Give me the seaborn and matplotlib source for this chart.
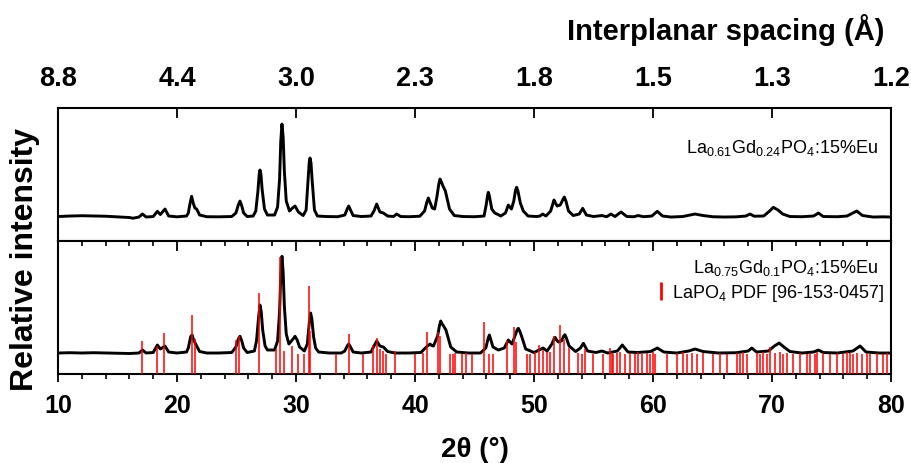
import numpy as np
import pandas as pd
import matplotlib
matplotlib.use("Agg")
import matplotlib.pyplot as plt
from matplotlib.lines import Line2D
from matplotlib.ticker import MultipleLocator, FixedLocator, FixedFormatter, NullFormatter
import seaborn as sns

# --- X-ray diffraction patterns (2theta in degrees, intensity in arbitrary units) ---
two_theta_a = [
    10.0, 11.0, 12.0, 13.0, 14.0, 15.0, 16.0, 16.3, 16.8, 17.1, 17.4, 18.0, 18.35, 18.6, 18.99, 19.3,
    20.0, 20.8, 20.95, 21.1, 21.23, 21.36, 21.5, 21.65, 21.9, 22.5, 23.5, 24.6, 24.95, 25.15, 25.29,
    25.42, 25.6, 25.9, 26.4, 26.62, 26.8, 26.9, 26.97, 27.05, 27.15, 27.35, 27.6, 28.2, 28.45,
    28.62, 28.72, 28.82, 28.92, 29.02, 29.18, 29.45, 29.7, 29.92, 30.2, 30.6, 30.85, 31.02, 31.11,
    31.18, 31.26, 31.36, 31.55, 31.8, 32.5, 33.5, 34.1, 34.3, 34.43, 34.58, 34.8, 35.5, 36.3, 36.55,
    36.78, 37.05, 37.34, 37.7, 38.2, 38.46, 38.8, 39.5, 40.4, 40.8, 41.0, 41.12, 41.25, 41.45, 41.65,
    41.85, 42.0, 42.1, 42.22, 42.35, 42.55, 42.9, 43.3, 44.0, 45.0, 45.8, 45.98, 46.1, 46.16, 46.25,
    46.45, 46.7, 46.9, 47.2, 47.6, 47.84, 48.1, 48.3, 48.45, 48.54, 48.65, 48.85, 49.1, 49.5,
    50.2, 50.5, 50.73, 51.0, 51.4, 51.6, 51.68, 51.8, 51.95, 52.2, 52.45, 52.55, 52.68, 52.9, 53.3,
    53.8, 54.09, 54.4, 55.0, 55.7, 56.1, 56.47, 56.8, 57.31, 57.8, 58.4, 58.75, 59.2, 59.9, 60.36,
    60.8, 61.5, 62.5, 63.1, 63.53, 64.2, 65.0, 66.0, 67.0, 67.8, 68.15, 68.5, 69.3, 69.8, 70.11,
    70.5, 70.9, 71.5, 72.5, 73.5, 73.9, 74.3, 75.5, 76.3, 76.8, 77.12, 77.6, 78.5, 79.3, 80.0,
]
intensity_a = [
    24.5, 25.0, 25.3, 25.0, 24.8, 24.2, 23.5, 22.8, 24.0, 27.0, 24.0, 24.5, 29.7, 26.5, 32.0, 25.0,
    24.2, 25.0, 28.0, 38.0, 44.7, 38.0, 33.0, 32.0, 26.0, 24.3, 24.2, 24.5, 28.0, 36.0, 40.0,
    36.0, 28.0, 24.5, 25.0, 30.0, 50.0, 66.0, 71.0, 67.0, 52.0, 32.0, 26.0, 26.0, 34.0,
    62.0, 100.0, 117.0, 104.0, 70.0, 40.0, 30.0, 33.0, 35.0, 29.0, 25.5, 31.0, 62.0, 79.0,
    83.0, 78.0, 60.0, 31.0, 25.0, 24.5, 24.3, 26.0, 32.0, 35.0, 31.0, 25.5, 24.5, 25.0, 30.0,
    37.0, 29.0, 28.0, 25.0, 24.5, 27.0, 24.5, 24.3, 24.8, 30.0, 39.0, 43.0, 39.0, 33.0, 32.0,
    45.0, 57.0, 62.0, 59.0, 55.0, 50.0, 32.0, 25.5, 24.5, 24.3, 25.0, 36.0, 46.0, 48.7, 45.0,
    32.0, 28.0, 27.0, 25.0, 28.0, 36.0, 32.0, 40.0, 51.0, 53.7, 50.0, 38.0, 30.0, 25.0,
    24.5, 25.0, 27.0, 25.0, 30.0, 38.0, 41.0, 38.0, 35.0, 36.0, 42.0, 44.0, 40.0, 30.0, 25.5,
    27.0, 32.7, 26.0, 24.5, 25.5, 24.3, 27.0, 24.5, 29.0, 24.5, 24.3, 25.5, 24.3, 25.0, 29.7,
    25.0, 24.0, 24.5, 26.0, 27.0, 25.5, 24.3, 24.0, 24.2, 25.0, 27.0, 24.8, 25.0, 30.0, 33.7,
    31.0, 27.0, 24.5, 24.3, 25.0, 28.0, 24.5, 24.3, 25.0, 28.0, 30.0, 25.5, 24.0, 24.2, 24.0,
]

two_theta_b = [
    10.0, 11.0, 12.0, 13.0, 14.0, 15.0, 16.0, 16.8, 17.1, 17.4, 18.0, 18.35, 18.6, 18.99, 19.3,
    20.0, 20.8, 20.95, 21.05, 21.15, 21.27, 21.4, 21.65, 21.9, 22.5, 23.5, 24.6, 24.95, 25.15,
    25.29, 25.42, 25.6, 25.9, 26.5, 26.68, 26.85, 26.97, 27.08, 27.2, 27.4, 27.6, 28.2, 28.45,
    28.62, 28.72, 28.82, 28.92, 29.02, 29.18, 29.4, 29.75, 29.92, 30.1, 30.3, 30.7, 30.95, 31.12,
    31.23, 31.33, 31.48, 31.65, 31.9, 32.8, 33.8, 34.1, 34.3, 34.43, 34.58, 34.8, 35.5, 36.3, 36.55,
    36.78, 37.05, 37.34, 37.7, 38.3, 39.5, 40.5, 40.95, 41.15, 41.26, 41.4, 41.55, 41.9, 42.05,
    42.16, 42.28, 42.4, 42.6, 43.0, 43.5, 44.5, 45.5, 45.95, 46.15, 46.25, 46.35, 46.55, 47.0,
    47.5, 47.84, 48.15, 48.4, 48.58, 48.68, 48.8, 48.95, 49.3, 50.0, 50.76, 51.1, 51.5, 51.68,
    51.76, 51.9, 52.05, 52.3, 52.5, 52.6, 52.72, 52.95, 53.5, 53.9, 54.15, 54.5, 55.2, 55.7, 56.2,
    57.0, 57.42, 57.9, 58.7, 59.8, 60.36, 60.9, 62.0, 63.0, 63.53, 64.2, 65.5, 67.0, 68.0, 68.3,
    68.7, 69.7, 70.2, 70.6, 71.0, 71.5, 72.5, 73.5, 73.9, 74.3, 75.5, 76.8, 77.4, 77.9, 79.0, 80.0,
]
intensity_b = [
    21.0, 21.3, 21.0, 21.3, 21.0, 20.7, 20.5, 21.0, 24.0, 21.0, 21.5, 29.0, 25.0, 28.0, 22.0,
    21.0, 22.0, 26.0, 32.0, 37.5, 39.0, 34.0, 28.0, 22.5, 21.0, 21.0, 21.5, 27.0, 35.0,
    37.7, 34.0, 26.0, 21.5, 23.0, 33.0, 56.0, 69.0, 62.0, 44.0, 28.0, 24.0, 24.0, 33.0,
    62.0, 100.0, 117.7, 102.0, 68.0, 40.0, 30.0, 35.0, 37.7, 34.0, 27.0, 23.0, 30.0, 52.0,
    61.0, 55.0, 37.0, 26.0, 22.0, 21.0, 21.0, 23.0, 28.0, 30.0, 27.0, 22.0, 21.0, 22.0, 28.0,
    33.0, 28.0, 27.0, 22.5, 21.0, 21.0, 21.5, 27.0, 29.0, 30.0, 28.5, 28.0, 38.0, 48.0,
    53.0, 50.0, 48.0, 44.0, 27.0, 22.0, 21.0, 21.0, 26.0, 36.0, 39.0, 35.0, 27.0, 24.0,
    26.0, 34.0, 30.0, 38.0, 44.0, 45.7, 43.0, 38.0, 25.0, 21.5, 26.0, 23.0, 30.0, 35.0,
    36.7, 34.0, 32.0, 33.0, 38.0, 39.3, 36.0, 28.0, 22.5, 26.0, 30.7, 23.0, 21.5, 23.0, 21.0,
    23.0, 29.0, 22.0, 21.5, 22.5, 26.0, 22.0, 21.0, 23.0, 25.0, 22.5, 21.0, 21.3, 23.0, 26.0,
    22.0, 23.0, 28.0, 31.0, 27.0, 22.5, 21.0, 22.0, 24.0, 21.5, 21.0, 23.0, 28.0, 22.0, 21.0, 21.0,
]

# --- Reference reflections, LaPO4 (PDF 96-153-0457) ---
ref_two_theta = [
    17.09, 18.35, 18.91, 21.23, 21.5, 24.96, 25.18, 26.89, 28.35, 28.65, 28.95, 29.7, 30.2, 30.65,
    31.06, 31.17, 33.4, 34.43, 35.6, 36.5, 36.78, 37.05, 37.3, 37.6, 38.3, 40.0, 40.7, 40.98, 41.96,
    42.1, 42.96, 43.2, 43.36, 43.92, 44.29, 44.76, 45.82, 46.25, 46.58, 47.7, 48.32, 48.5, 49.39,
    49.66, 50.08, 50.46, 50.76, 51.06, 51.34, 51.7, 52.18, 52.5, 52.9, 53.72, 54.0, 54.29, 54.99,
    55.83, 56.39, 56.53, 56.67, 56.95, 57.23, 57.65, 58.07, 58.49, 58.77, 59.05, 59.47, 59.75, 60.03,
    60.17, 61.15, 61.99, 62.55, 62.83, 63.25, 63.67, 64.23, 65.07, 65.63, 66.19, 67.03, 67.31, 67.59,
    67.87, 68.71, 68.99, 69.27, 69.55, 69.83, 70.25, 70.67, 70.95, 71.23, 71.79, 72.35, 72.91, 73.19,
    73.61, 73.75, 74.31, 74.87, 75.43, 75.99, 76.27, 76.55, 76.83, 77.11, 77.54, 77.96, 78.24, 78.8,
    79.36, 79.64,
]
ref_intensity = [
    32.7, 28.0, 40.7, 59.3, 35.0, 34.0, 38.0, 81.0, 25.0, 116.7, 23.0, 28.0, 20.0, 20.0,
    87.7, 43.0, 20.0, 40.0, 20.0, 29.0, 35.7, 25.0, 23.0, 20.0, 23.0, 20.0, 21.0, 41.7, 41.7,
    38.0, 20.0, 20.0, 21.0, 20.0, 21.0, 20.0, 51.7, 20.0, 20.0, 33.0, 46.7, 32.0, 20.0,
    20.0, 22.0, 29.0, 24.0, 22.0, 22.0, 38.0, 49.0, 35.0, 26.0, 21.0, 20.0, 25.0, 20.0,
    20.0, 26.0, 21.0, 20.0, 21.0, 22.0, 20.0, 21.0, 20.0, 22.0, 20.0, 21.0, 20.0, 22.0,
    20.0, 20.0, 21.0, 22.0, 20.0, 21.0, 20.0, 21.0, 20.0, 21.0, 20.0, 21.0, 20.0, 22.0,
    20.0, 21.0, 20.0, 22.0, 20.0, 27.0, 21.0, 22.0, 20.0, 21.0, 20.0, 21.0, 20.0, 21.0,
    20.0, 22.0, 21.0, 20.0, 21.0, 20.0, 22.0, 21.0, 20.0, 21.0, 20.0, 21.0, 20.0, 21.0,
    20.0, 21.0,
]

# --- Axis tick labels ---
x_ticks = [10, 20, 30, 40, 50, 60, 70, 80]
x_tick_labels = ["10", "20", "30", "40", "50", "60", "70", "80"]
d_spacing_labels = ["8.8", "4.4", "3.0", "2.3", "1.8", "1.5", "1.3", "1.2"]

label_a = r"La$_{0.61}$Gd$_{0.24}$PO$_4$:15%Eu"
label_b = r"La$_{0.75}$Gd$_{0.1}$PO$_4$:15%Eu"
label_ref = r"LaPO$_4$ PDF [96-153-0457]"

sns.set_theme(style="white")
plt.rcParams["font.family"] = ["Liberation Sans", "DejaVu Sans"]
plt.rcParams["mathtext.fontset"] = "custom"
plt.rcParams["mathtext.rm"] = "Liberation Sans"
plt.rcParams["mathtext.it"] = "Liberation Sans:italic"
plt.rcParams["mathtext.bf"] = "Liberation Sans:bold"
for key in ("text.color", "axes.labelcolor", "xtick.color", "ytick.color", "axes.edgecolor"):
    plt.rcParams[key] = "black"

df_a = pd.DataFrame({"two_theta": two_theta_a, "intensity": intensity_a})
df_b = pd.DataFrame({"two_theta": two_theta_b, "intensity": intensity_b})

fig = plt.figure(figsize=(9.12, 4.64), dpi=100)
left, width, h = 0.0636, 0.9134, 0.2866
ax_top = fig.add_axes([left, 0.4784, width, h])
ax_bot = fig.add_axes([left, 0.1918, width, h])

spine_w = 1.5
for ax in (ax_top, ax_bot):
    ax.set_xlim(10, 80)
    ax.set_ylim(0, 133)
    ax.set_yticks([])
    for s in ax.spines.values():
        s.set_linewidth(spine_w)
        s.set_color("black")
        s.set_visible(True)

# Upper pattern
sns.lineplot(data=df_a, x="two_theta", y="intensity", ax=ax_top, color="black",
             linewidth=2.1, sort=False, estimator=None)
ax_top.text(0.984, 0.707, label_a, transform=ax_top.transAxes, ha="right", va="center",
            fontsize=13, color="black")

# Lower pattern with reference sticks
sns.lineplot(data=df_b, x="two_theta", y="intensity", ax=ax_bot, color="black",
             linewidth=2.1, sort=False, estimator=None, zorder=2)
ax_bot.vlines(ref_two_theta, 0, ref_intensity, colors="#ff0000", linewidth=1.1, zorder=3)
ax_bot.text(0.984, 0.805, label_b, transform=ax_bot.transAxes, ha="right", va="center",
            fontsize=13, color="black")
handle = Line2D([], [], color="#ff0000", marker="|", linestyle="none", markersize=13,
                markeredgewidth=2)
leg = ax_bot.legend([handle], [label_ref], loc="center right", bbox_to_anchor=(0.992, 0.61),
                    frameon=False, fontsize=13, handlelength=0.4, handletextpad=0.4,
                    borderpad=0, borderaxespad=0, labelcolor="black")
ax_top.set_xlabel("")
ax_top.set_ylabel("")
ax_bot.set_ylabel("")

# Top panel: d-spacing scale along its upper edge
ax_top.xaxis.set_major_locator(FixedLocator(x_ticks))
ax_top.xaxis.set_major_formatter(FixedFormatter(d_spacing_labels))
ax_top.tick_params(axis="x", which="major", bottom=False, labelbottom=False, top=True,
                   labeltop=True, direction="in", length=7.2, width=1.3, pad=12,
                   labelsize=19.5, color="black", labelcolor="black")
for t in ax_top.get_xticklabels():
    t.set_fontweight("bold")

# Lower panel: 2theta scale
ax_bot.xaxis.set_major_locator(FixedLocator(x_ticks))
ax_bot.xaxis.set_major_formatter(FixedFormatter(x_tick_labels))
ax_bot.xaxis.set_minor_locator(MultipleLocator(2))
ax_bot.tick_params(axis="x", which="major", bottom=True, top=False, direction="out",
                   length=6, width=1.3, pad=8, labelsize=18, color="black", labelcolor="black")
ax_bot.tick_params(axis="x", which="minor", bottom=True, top=False, direction="out",
                   length=3.4, width=1.2, color="black")
for t in ax_bot.get_xticklabels():
    t.set_fontweight("bold")

# Inward ticks on the shared edge between the panels (overlay axes, frame hidden)
ax_mid = fig.add_axes([left, 0.1918, width, h])
ax_mid.set_xlim(10, 80)
ax_mid.set_ylim(0, 133)
ax_mid.patch.set_visible(False)
for s in ax_mid.spines.values():
    s.set_visible(False)
ax_mid.set_yticks([])
ax_mid.xaxis.set_major_locator(FixedLocator(x_ticks))
ax_mid.xaxis.set_minor_locator(MultipleLocator(2))
ax_mid.xaxis.set_major_formatter(NullFormatter())
ax_mid.tick_params(axis="x", which="major", bottom=False, top=True, labelbottom=False,
                   labeltop=False, direction="in", length=7.2, width=1.3, color="black")
ax_mid.tick_params(axis="x", which="minor", bottom=False, top=True, labelbottom=False,
                   labeltop=False, direction="in", length=3.8, width=1.2, color="black")

ax_bot.set_xlabel("2θ (°)", fontsize=20, fontweight="bold", labelpad=13, color="black")
fig.text(0.0274, 0.44, "Relative intensity", rotation=90, ha="center", va="center",
         fontsize=23, fontweight="bold")
fig.text(0.970, 0.935, "Interplanar spacing (Å)", ha="right", va="center",
         fontsize=21, fontweight="bold")

fig.savefig("out.png", dpi=100, facecolor="white")
